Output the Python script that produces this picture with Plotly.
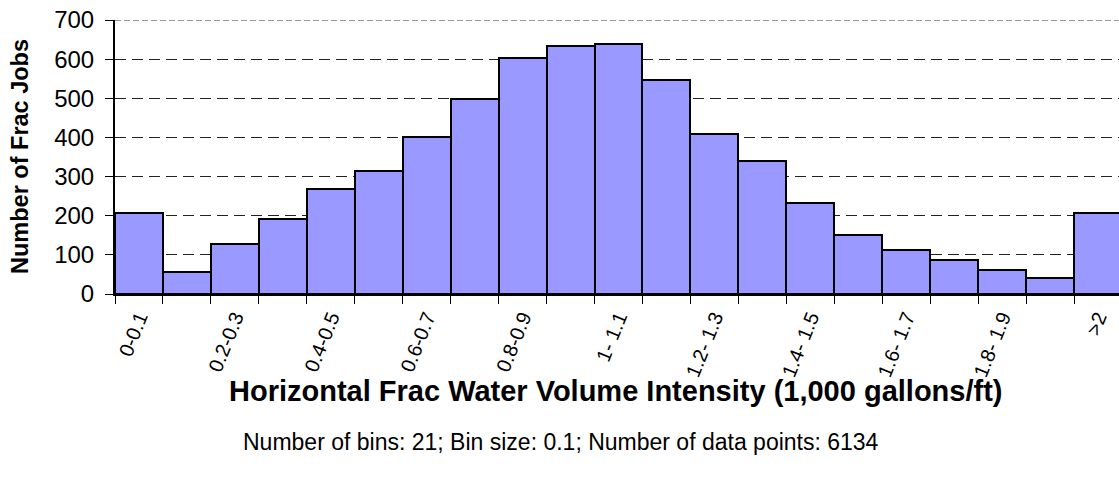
import plotly.graph_objects as go

# ---- data ----
categories = ["0-0.1", "0.1-0.2", "0.2-0.3", "0.3-0.4", "0.4-0.5", "0.5-0.6",
              "0.6-0.7", "0.7-0.8", "0.8-0.9", "0.9-1", "1- 1.1", "1.1- 1.2",
              "1.2- 1.3", "1.3- 1.4", "1.4- 1.5", "1.5- 1.6", "1.6- 1.7",
              "1.7- 1.8", "1.8- 1.9", "1.9- 2", ">2"]
counts = [208, 55, 127, 192, 268, 314, 400, 497, 603, 633, 639,
          548, 410, 339, 233, 151, 112, 86, 61, 40, 208]
shown_labels = categories[::2]
y_ticks = [0, 100, 200, 300, 400, 500, 600, 700]

x_title = "Horizontal Frac Water Volume Intensity (1,000 gallons/ft)"
y_title = "Number of Frac Jobs"
subtitle = "Number of bins: 21; Bin size: 0.1; Number of data points: 6134"

idx = list(range(len(categories)))
shown_idx = [categories.index(c) for c in shown_labels]
boundaries = [i - 0.5 for i in range(len(categories) + 1)]

FONT = "Liberation Sans, Arial, sans-serif"

fig = go.Figure(go.Bar(
    x=idx, y=counts, width=1,
    marker=dict(color="#9999FF", line=dict(color="black", width=2)),
    hoverinfo="skip",
))

W, H = 1119, 486
ml, mr, mt = 115, 0, 20
ph = 274
mb = H - mt - ph
pw = W - ml - mr

fig.update_layout(
    width=W, height=H,
    margin=dict(l=ml, r=mr, t=mt, b=mb, pad=0, autoexpand=False),
    paper_bgcolor="white", plot_bgcolor="white",
    bargap=0, showlegend=False,
    font=dict(family=FONT, color="black"),
)

fig.update_xaxes(
    range=[-0.5, -0.5 + pw / 47.95],
    tickmode="array", tickvals=shown_idx, ticktext=shown_labels,
    ticks="", tickangle=-68, tickfont=dict(size=20, family=FONT, color="black"),
    ticklabelstandoff=2, automargin=False,
    showline=True, linecolor="black", linewidth=2,
    showgrid=False, zeroline=False,
    minor=dict(tickmode="array", tickvals=boundaries, ticks="outside",
               ticklen=8, tickwidth=1, tickcolor="black", showgrid=False),
)

fig.update_yaxes(
    range=[0, y_ticks[-1]], tickmode="array", tickvals=y_ticks,
    ticks="outside", ticklen=8, tickwidth=1, tickcolor="black",
    tickfont=dict(size=24, family=FONT, color="black"),
    ticklabelstandoff=6, automargin=False,
    showline=True, linecolor="black", linewidth=2,
    showgrid=True, gridcolor="#222222", gridwidth=1, griddash="11px,6px",
    zeroline=False,
)

# top gridline (at the axis maximum) drawn as a lighter dashed line
fig.add_shape(type="line", xref="paper", yref="y", x0=0, x1=1,
              y0=y_ticks[-1], y1=y_ticks[-1], layer="below",
              line=dict(color="#777777", width=1.5, dash="6px,3px"))

# helpers: window pixel -> paper coordinates
def py(win_y):
    return (mt + ph - win_y) / ph

def px(win_x):
    return (win_x - ml) / pw

fig.add_annotation(text=x_title, xref="paper", yref="paper",
                   x=px(615), y=py(391), xanchor="center", yanchor="middle",
                   showarrow=False,
                   font=dict(size=29, family=FONT, color="black", weight="bold"))
fig.add_annotation(text=subtitle, xref="paper", yref="paper",
                   x=px(561), y=py(442), xanchor="center", yanchor="middle",
                   showarrow=False,
                   font=dict(size=23, family=FONT, color="black"))
fig.add_annotation(text=y_title, xref="paper", yref="paper",
                   x=px(20), y=py(157), xanchor="center", yanchor="middle",
                   textangle=-90, showarrow=False,
                   font=dict(size=23.5, family=FONT, color="black", weight="bold"))

fig.write_html("out.html",
               config={"displayModeBar": False},
               post_script="document.body.style.margin='0';document.body.style.padding='0';")
